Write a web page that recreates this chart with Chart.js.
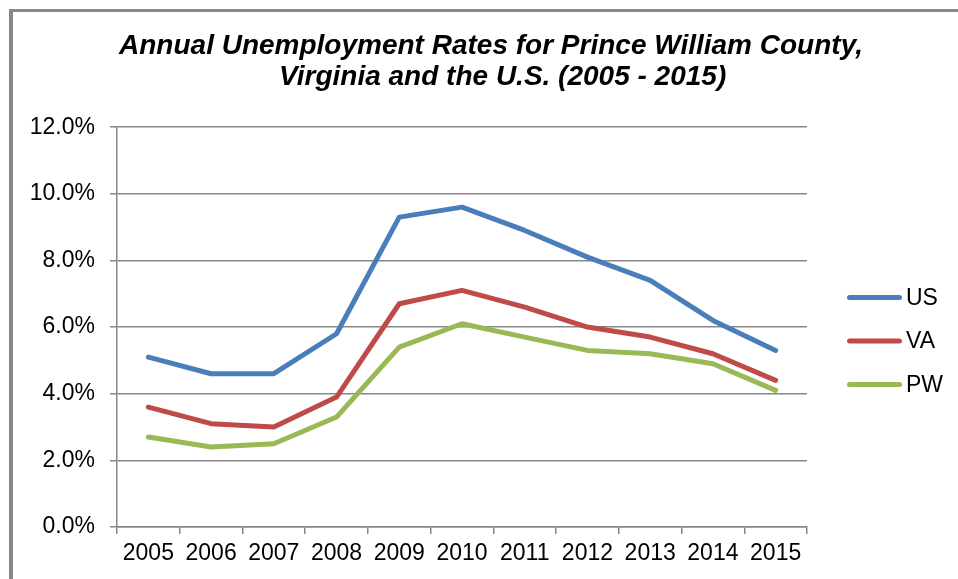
<!DOCTYPE html>
<html>
<head>
<meta charset="utf-8">
<script src="https://cdn.jsdelivr.net/npm/chart.js@4"></script>
<style>
    html, body { margin: 0; padding: 0; background: #fff; overflow: hidden; }
    #frame {
        position: absolute; left: 9px; top: 9px; width: 1000px; height: 620px;
        border-left: 4px solid #878787; border-top: 3px solid #878787;
    }
    #wrap { position: absolute; left: 0; top: 0; width: 958px; height: 579px; }
</style>
</head>
<body>
<div id="frame"></div>
<div id="wrap"><canvas id="chart" width="958" height="579"></canvas></div>
<script>
years = ["2005", "2006", "2007", "2008", "2009", "2010", "2011", "2012", "2013", "2014", "2015"];
usRates = [5.1, 4.6, 4.6, 5.8, 9.3, 9.6, 8.9, 8.1, 7.4, 6.2, 5.3];
vaRates = [3.6, 3.1, 3.0, 3.9, 6.7, 7.1, 6.6, 6.0, 5.7, 5.2, 4.4];
pwRates = [2.7, 2.4, 2.5, 3.3, 5.4, 6.1, 5.7, 5.3, 5.2, 4.9, 4.1];
seriesNames = ["US", "VA", "PW"];
seriesColors = ["#4a7ebb", "#be4b48", "#98b954"];
yTicks = [0, 2, 4, 6, 8, 10, 12];

font = "'Liberation Sans', Arial, sans-serif";
gridColor = "#878787";

function line(i, data) {
    return {
        label: seriesNames[i],
        data: data,
        borderColor: seriesColors[i],
        backgroundColor: seriesColors[i],
        borderWidth: 5,
        borderCapStyle: 'round',
        borderJoinStyle: 'round',
        pointRadius: 0,
        tension: 0
    };
}

// legend drawn by hand so it sits like the excel one
sideLegend = {
    id: 'sideLegend',
    afterDraw(chart) {
        const ctx = chart.ctx;
        const area = chart.chartArea;
        const midY = (area.top + area.bottom) / 2 + 14;
        ctx.save();
        ctx.font = "23px " + font;
        ctx.textBaseline = 'middle';
        ctx.lineCap = 'round';
        ctx.lineWidth = 5;
        chart.data.datasets.forEach((ds, i) => {
            const y = midY + (i - 1) * 43.5;
            ctx.strokeStyle = ds.borderColor;
            ctx.beginPath();
            ctx.moveTo(area.right + 42.5, y);
            ctx.lineTo(area.right + 92.5, y);
            ctx.stroke();
            ctx.fillStyle = '#000';
            ctx.fillText(ds.label, area.right + 99, y + 1);
        });
        ctx.restore();
    }
};

chart = new Chart(document.getElementById('chart'), {
    type: 'line',
    data: {
        labels: years,
        datasets: [line(0, usRates), line(1, vaRates), line(2, pwRates)]
    },
    options: {
        responsive: false,
        animation: false,
        layout: { padding: { left: 24, right: 0, top: 0, bottom: 0 } },
        plugins: {
            legend: { display: false },
            tooltip: { enabled: false },
            title: {
                display: true,
                // leading spaces nudge the second line right like the original
                text: ["Annual Unemployment Rates for Prince William County,", "   Virginia and the U.S. (2005 - 2015)"],
                color: '#000',
                font: { family: font, size: 28, weight: 'bold', style: 'italic', lineHeight: 1.11 },
                padding: { top: 31, bottom: 34 }
            }
        },
        scales: {
            x: {
                offset: true,
                grid: { display: true, drawOnChartArea: false, drawTicks: true, tickLength: 7, color: gridColor, lineWidth: 1.5, offset: true },
                border: { display: true, color: gridColor, width: 1.5 },
                ticks: { color: '#000', font: { family: font, size: 23 }, padding: 6, maxRotation: 0, autoSkip: false },
                afterFit: (s) => { s.height = 52; }
            },
            y: {
                min: 0,
                max: 12,
                afterBuildTicks: (s) => { s.ticks = yTicks.map(v => ({ value: v })); },
                grid: { color: gridColor, lineWidth: 1.5, tickLength: 7 },
                border: { display: true, color: gridColor, width: 1.5 },
                ticks: { color: '#000', font: { family: font, size: 23 }, padding: 15, callback: (v) => v.toFixed(1) + '%' },
                afterFit: (s) => { s.width = 93; }
            },
            side: {
                position: 'right',
                display: true,
                grid: { display: false },
                border: { display: false },
                ticks: { display: false },
                afterFit: (s) => { s.width = 151; }
            }
        }
    },
    plugins: [sideLegend]
});
</script>
</body>
</html>
